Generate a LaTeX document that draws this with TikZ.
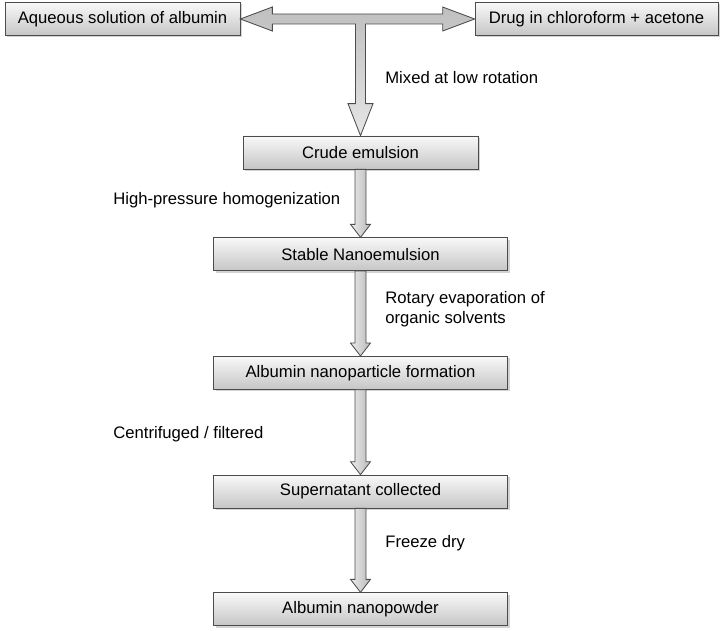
\documentclass[tikz,border=0pt]{standalone}
\usepackage{fontspec}
\setmainfont{Liberation Sans}
\usetikzlibrary{positioning, calc, shadows}

\newcommand{\fatdown}[2]{%
  \draw[fat, left color=gray!15, right color=gray!55]
    ($(#1.south)+(-5.5,0)$) -- ($(#2.north)+(-5.5,13)$) -- ($(#2.north)+(-10,13)$) -- (#2.north)
    -- ($(#2.north)+(10,13)$) -- ($(#2.north)+(5.5,13)$) -- ($(#1.south)+(5.5,0)$) -- cycle;}

\begin{document}
\begin{tikzpicture}[
  x=0.6pt, y=0.6pt,
  box/.style={rectangle, draw=gray!60!black, top color=gray!5, bottom color=gray!45, minimum width=176.4pt, minimum height=19.8pt, inner sep=2pt, drop shadow={shadow xshift=1.2pt, shadow yshift=-1.2pt, opacity=0.35}},
  lbl/.style={inner sep=0pt, anchor=west, align=left},
  fat/.style={draw=gray!60!black, line width=0.5pt, line join=miter}
]
\useasboundingbox (0,0) rectangle (723,-630);

\node[box, minimum width=141pt] (aqueous) at (122.5,-19) {Aqueous solution of albumin};
\node[box, minimum width=145.8pt] (drug) at (596.5,-19) {Drug in chloroform + acetone};
\node[box, minimum width=141pt] (crude) at (360.5,-152.5) {Crude emulsion};
\node[box, below=40.8pt of crude] (stable) {Stable Nanoemulsion};
\node[box, below=51pt of stable] (particles) {Albumin nanoparticle formation};
\node[box, below=51pt of particles] (supernatant) {Supernatant collected};
\node[box, below=50.4pt of supernatant] (powder) {Albumin nanopowder};

\node[lbl] (mixing) at (385,-78) {Mixed at low rotation};
\node[lbl] (homog) at (113,-200) {High-pressure homogenization};
\node[lbl] (rotary) at (385,-309) {Rotary evaporation of\\organic solvents};
\node[lbl] (centrifuge) at (113,-434) {Centrifuged / filtered};
\node[lbl] (freeze) at (385,-543) {Freeze dry};

\coordinate (junction) at (crude.north |- aqueous.east);
\draw[fat, top color=gray!50, bottom color=gray!20]
  (aqueous.east) -- ($(aqueous.east)+(32,12)$) -- ($(aqueous.east)+(32,5)$)
  -- ($(drug.west)+(-32,5)$) -- ($(drug.west)+(-32,12)$) -- (drug.west)
  -- ($(drug.west)+(-32,-12)$) -- ($(drug.west)+(-32,-5)$)
  -- ($(junction)+(5,-5)$) -- ($(crude.north)+(5,32)$) -- ($(crude.north)+(12.5,32)$) -- (crude.north)
  -- ($(crude.north)+(-12.5,32)$) -- ($(crude.north)+(-5,32)$) -- ($(junction)+(-5,-5)$)
  -- ($(aqueous.east)+(32,-5)$) -- ($(aqueous.east)+(32,-12)$) -- cycle;

\fatdown{crude}{stable}
\fatdown{stable}{particles}
\fatdown{particles}{supernatant}
\fatdown{supernatant}{powder}
\end{tikzpicture}
\end{document}
